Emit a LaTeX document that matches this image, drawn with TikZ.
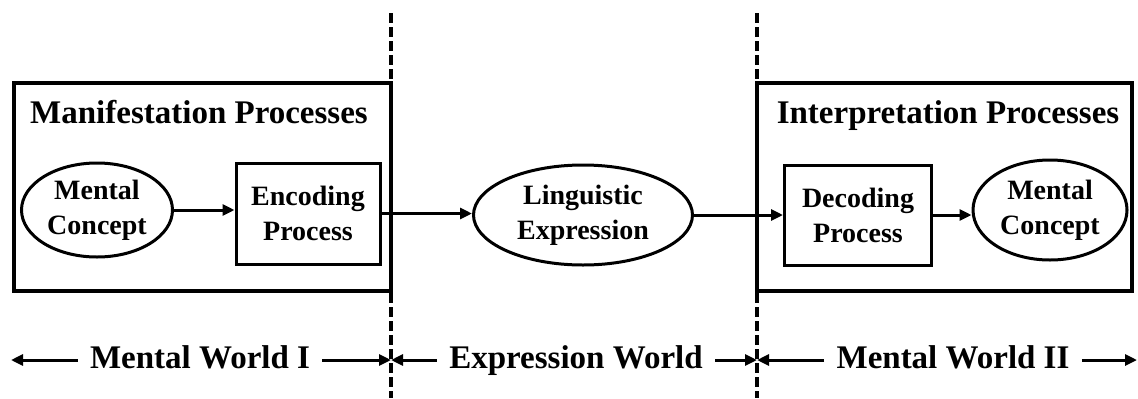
\documentclass[tikz,border=0pt]{standalone}
\usepackage{fontspec}
\setmainfont{Liberation Serif}
\usepackage{tikz}
\usetikzlibrary{shapes.geometric, arrows.meta, positioning}
\tikzstyle{frame} = [rectangle, draw=black, line width=1.7pt, inner sep=0pt]
\tikzstyle{procbox} = [rectangle, draw=black, line width=1.5pt, inner sep=0pt, align=center, font=\fontsize{14}{17.5}\selectfont\bfseries]
\tikzstyle{idea} = [ellipse, draw=black, line width=1.5pt, inner sep=0pt, align=center, font=\fontsize{14}{17.5}\selectfont\bfseries]
\tikzstyle{heading} = [anchor=base, inner sep=0pt, font=\fontsize{16.5}{20}\selectfont\bfseries]
\tikzstyle{world} = [anchor=base, inner xsep=6pt, inner ysep=0pt, font=\fontsize{16.5}{20}\selectfont\bfseries]
\tikzstyle{arrow} = [line width=1.5pt, -{Triangle[length=6pt, width=5.5pt]}]
\tikzstyle{divider} = [line width=1.7pt, dash pattern=on 5pt off 2pt]

\begin{document}
\begin{tikzpicture}[x=0.5pt, y=0.5pt]
    \useasboundingbox (0,0) rectangle (1138,398);

    % borders between the worlds
    \coordinate (sepA) at (391,385);
    \coordinate (sepB) at (757,385);
    \draw[divider] (sepA) -- (sepA |- 0,0);
    \draw[divider] (sepB) -- (sepB |- 0,0);

    % the two process frames
    \node[frame, minimum width=188.5pt, minimum height=104pt] (manifest) at (202.5,211) {};
    \node[frame, minimum width=187.5pt, minimum height=104pt] (interpret) at (944.5,211) {};
    \node[heading] (manifestTitle) at (199,275) {Manifestation Processes};
    \node[heading] (interpretTitle) at (948,275) {Interpretation Processes};

    % chain of concepts and processes
    \node[idea, minimum width=75.5pt, minimum height=47pt] (conceptA) at (97,188) {Mental\\Concept};
    \node[procbox, minimum width=72pt, minimum height=50.5pt] (encode) at (308,184.5) {Encoding\\Process};
    \node[idea, minimum width=109.5pt, minimum height=50pt] (expr) at (583,183) {Linguistic\\Expression};
    \node[procbox, minimum width=73.5pt, minimum height=50pt] (decode) at (858,183) {Decoding\\Process};
    \node[idea, minimum width=77pt, minimum height=50pt] (conceptB) at (1050,188) {Mental\\Concept};

    \draw[arrow] (conceptA.east) -- (conceptA.east -| encode.west);
    \draw[arrow] (encode.east) -- (encode.east -| expr.west);
    \draw[arrow] (expr.east) -- (expr.east -| decode.west);
    \draw[arrow] (decode.east) -- (decode.east -| conceptB.west);

    % world labels along the bottom
    \foreach \x/\name/\lbl in {200/mwA/{Mental World I}, 576/ew/{Expression World}, 953/mwB/{Mental World II}}{
        \node[world] (\name) at (\x,30) {\lbl};
    }
    \coordinate (leftEnd) at (11,38);
    \coordinate (rightEnd) at (1137,38);
    \draw[arrow] (mwA.west |- leftEnd) -- (leftEnd);
    \draw[arrow] (mwA.east |- leftEnd) -- (sepA |- leftEnd);
    \draw[arrow] (ew.west |- leftEnd) -- (sepA |- leftEnd);
    \draw[arrow] (ew.east |- leftEnd) -- (sepB |- leftEnd);
    \draw[arrow] (mwB.west |- leftEnd) -- (sepB |- leftEnd);
    \draw[arrow] (mwB.east |- leftEnd) -- (rightEnd);
\end{tikzpicture}
\end{document}
